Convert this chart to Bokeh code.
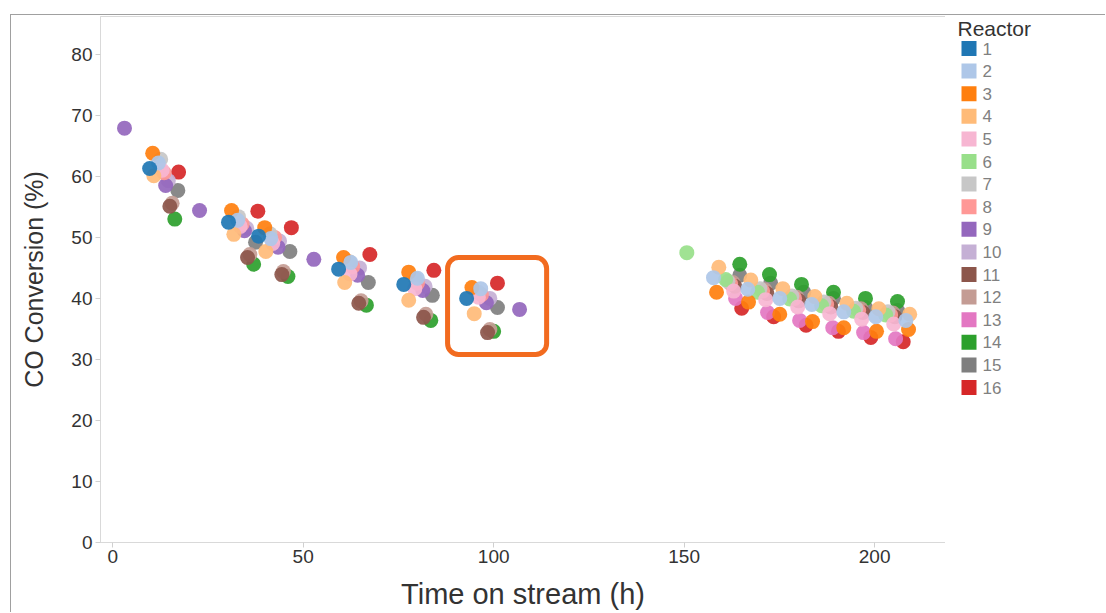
from bokeh.plotting import figure
from bokeh.models import (ColumnDataSource, Range1d, FixedTicker, BoxAnnotation, Spacer)
from bokeh.core.properties import value
from bokeh.layouts import column, row
from bokeh.embed import file_html
from bokeh.resources import INLINE

# Reactor numbers and their colours
reactors = [str(i) for i in range(1, 17)]
colors = ["#1F77B4", "#AEC7E8", "#FF7F0E", "#FFBB78", "#F7B6D2", "#98DF8A",
          "#C7C7C7", "#FF9896", "#9467BD", "#C5B0D5", "#8C564B", "#C49C94",
          "#E377C2", "#2CA02C", "#7F7F7F", "#D62728"]

# Time on stream (h) and CO conversion (%) per reactor
t01 = [9.7, 30.4, 38.3, 59.3, 76.4, 92.9]
y01 = [61.3, 52.5, 50.2, 44.8, 42.3, 40.0]

t02 = [12.0, 32.8, 41.5, 62.5, 80.0, 96.6, 157.7, 166.7, 175.1, 183.5, 191.9, 200.3, 208.2]
y02 = [62.2, 52.8, 49.8, 45.9, 43.3, 41.6, 43.4, 41.5, 40.0, 39.0, 37.8, 37.0, 36.4]

t03 = [10.5, 31.2, 39.9, 60.6, 77.7, 94.3, 158.5, 166.9, 175.1, 183.7, 191.9, 200.5, 208.9]
y03 = [63.8, 54.4, 51.6, 46.7, 44.3, 41.8, 41.0, 39.4, 37.4, 36.2, 35.2, 34.6, 34.9]

t04 = [10.8, 31.8, 40.2, 60.9, 77.7, 94.9, 159.1, 167.5, 175.9, 184.3, 192.7, 201.1, 209.2]
y04 = [60.1, 50.5, 47.7, 42.6, 39.7, 37.5, 45.1, 43.0, 41.6, 40.3, 39.2, 38.3, 37.4]

t05 = [13.0, 33.5, 42.0, 62.3, 79.3, 96.0, 163.0, 171.4, 179.8, 188.2, 196.6, 205.0]
y05 = [61.0, 51.8, 49.0, 44.0, 41.6, 40.2, 41.2, 39.8, 38.6, 37.5, 36.6, 35.8]

t06 = [150.7, 160.9, 169.3, 177.7, 186.1, 194.5, 202.9]
y06 = [47.5, 43.1, 41.0, 39.9, 38.8, 37.9, 37.3]

t07 = [12.6, 33.0, 41.3, 62.2, 79.5, 96.0, 161.5, 169.9, 178.3, 186.7, 195.1, 203.5]
y07 = [62.8, 53.4, 50.6, 46.0, 43.2, 41.0, 42.8, 41.6, 40.4, 39.4, 38.4, 37.8]

t08 = [13.5, 34.0, 42.5, 63.0, 80.0, 96.8, 162.2, 170.6, 179.0, 187.4, 195.8, 204.2]
y08 = [60.6, 52.2, 50.0, 45.2, 42.5, 40.6, 42.4, 41.2, 40.0, 39.0, 38.0, 37.3]

t09 = [3.1, 13.9, 22.8, 34.6, 43.4, 52.8, 64.3, 81.4, 98.1, 106.8]
y09 = [67.9, 58.5, 54.4, 51.1, 48.4, 46.4, 43.8, 41.3, 39.3, 38.2]

t10 = [14.6, 35.2, 43.8, 64.8, 82.0, 99.0]
y10 = [59.3, 51.5, 49.4, 45.0, 42.0, 40.0]

t11 = [15.0, 35.4, 44.4, 64.6, 81.6, 98.4, 163.3, 171.7, 180.1, 188.5, 196.9, 205.3]
y11 = [55.1, 46.7, 43.9, 39.2, 36.9, 34.4, 42.0, 40.8, 39.6, 38.6, 37.7, 37.0]

t12 = [15.6, 36.0, 44.8, 65.2, 82.2, 99.0, 162.8, 171.2, 179.6, 188.0, 196.4, 204.8]
y12 = [55.6, 47.2, 44.4, 39.6, 37.4, 34.9, 42.6, 41.4, 40.2, 39.2, 38.3, 37.6]

t13 = [163.5, 171.9, 180.3, 189.0, 197.1, 205.5]
y13 = [40.0, 37.7, 36.4, 35.2, 34.4, 33.4]

t14 = [16.3, 37.0, 46.0, 66.6, 83.5, 100.0, 164.6, 172.4, 180.8, 189.2, 197.6, 206.0]
y14 = [53.0, 45.6, 43.6, 38.9, 36.4, 34.6, 45.6, 43.9, 42.3, 41.0, 40.0, 39.5]

t15 = [17.1, 37.5, 46.5, 67.1, 83.9, 101.0, 164.6, 172.7, 181.4, 189.2, 197.6, 206.0]
y15 = [57.7, 49.2, 47.7, 42.6, 40.5, 38.5, 43.8, 42.5, 41.0, 40.0, 38.5, 38.0]

t16 = [17.3, 38.1, 46.9, 67.5, 84.3, 101.0, 165.1, 173.5, 182.0, 190.5, 199.0, 207.5]
y16 = [60.7, 54.3, 51.6, 47.2, 44.6, 42.5, 38.4, 37.0, 35.6, 34.6, 33.6, 32.9]

times = [t01, t02, t03, t04, t05, t06, t07, t08, t09, t10, t11, t12, t13, t14, t15, t16]
conversions = [y01, y02, y03, y04, y05, y06, y07, y08, y09, y10, y11, y12, y13, y14, y15, y16]

x_ticks = [0, 50, 100, 150, 200]
y_ticks = [0, 10, 20, 30, 40, 50, 60, 70, 80]

# Highlighted sampling window (h, %)
box_left, box_right, box_bottom, box_top = 87.9, 113.9, 30.8, 46.7

FONT = "Liberation Sans"
FIG_H = 598
FRAME_H = 526  # plot area height shared by both panels of the row

p = figure(width=935, height=FIG_H, output_backend="svg", toolbar_location=None,
           x_range=Range1d(-3.2, 218.6), y_range=Range1d(0, 86.2),
           min_border_left=89, min_border_top=1, min_border_bottom=71,
           min_border_right=1)
p.styles = {"border-top": "1px solid #a0a0a0", "border-left": "1px solid #a0a0a0"}
p.background_fill_color = "white"
p.border_fill_color = "white"
p.outline_line_color = "#d9d9d9"
p.grid.visible = False

# Draw reactor 16 first so that lower numbers sit on top
for i in reversed(range(16)):
    src = ColumnDataSource(dict(t=times[i], conv=conversions[i]))
    p.scatter("t", "conv", source=src, size=15, fill_color=colors[i],
              fill_alpha=0.92, line_color=None)

p.add_layout(BoxAnnotation(left=box_left, right=box_right, bottom=box_bottom, top=box_top,
                           fill_alpha=0, line_color="#F26B1F", line_alpha=1.0,
                           line_width=5, border_radius=11))

# Axes
p.xaxis.ticker = FixedTicker(ticks=x_ticks)
p.yaxis.ticker = FixedTicker(ticks=y_ticks)
p.xaxis.axis_label = "Time on stream (h)"
p.yaxis.axis_label = "CO Conversion (%)"
for ax in (p.xaxis[0], p.yaxis[0]):
    ax.axis_line_color = "#d9d9d9"
    ax.major_tick_line_color = "#d0d0d0"
    ax.major_tick_in = 0
    ax.major_tick_out = 5
    ax.minor_tick_line_color = None
    ax.major_label_text_font = FONT
    ax.major_label_text_font_size = "19px"
    ax.major_label_text_color = "#333333"
    ax.axis_label_text_font = FONT
    ax.axis_label_text_font_style = "normal"
    ax.axis_label_text_color = "#333333"
p.xaxis.axis_label_text_font_size = "29px"
p.yaxis.axis_label_text_font_size = "25px"
p.xaxis.major_label_standoff = 2
p.yaxis.major_label_standoff = 3
p.xaxis.axis_label_standoff = 12
p.yaxis.axis_label_standoff = 20

# Colour legend panel (pixel layout, y grows downward from the top of the plot area)
LEG_W = 160
lg = figure(width=LEG_W, height=FIG_H, output_backend="svg", toolbar_location=None,
            x_range=Range1d(0, LEG_W), y_range=Range1d(FRAME_H, 0),
            min_border=0, x_axis_location=None, y_axis_location=None)
lg.styles = {"border-top": "1px solid #a0a0a0"}
lg.outline_line_color = None
lg.grid.visible = False
lg.background_fill_color = "white"
lg.border_fill_color = "white"

row_pitch = 22.6
first_row = 32
leg_src = ColumnDataSource(dict(
    label=reactors,
    color=colors,
    y=[first_row + row_pitch * i for i in range(16)],
))
lg.rect(x=23.5, y="y", width=15, height=15, fill_color="color", line_color=None,
        source=leg_src)
lg.text(x=37, y="y", text="label", source=leg_src, text_font=value(FONT),
        text_font_size="17px", text_color="#808080", text_baseline="middle",
        text_align="left")
lg.text(x=[12], y=[12], text=["Reactor"], text_font=value(FONT),
        text_font_size="21px", text_color="#333333", text_baseline="middle",
        text_align="left")

layout = column(Spacer(width=1106, height=14),
                row(Spacer(width=10, height=FIG_H), p, lg))

open("out.html", "w").write(file_html(layout, INLINE))
